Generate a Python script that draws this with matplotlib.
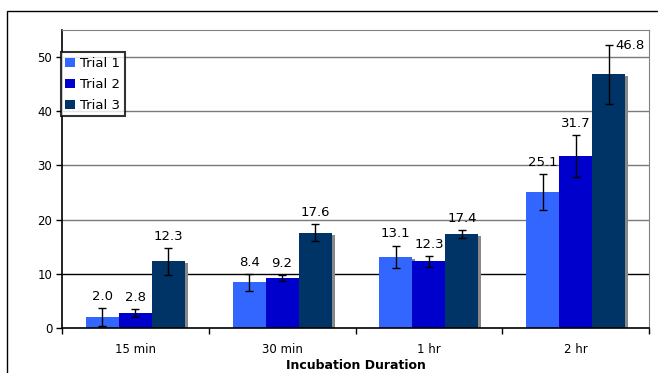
import matplotlib
matplotlib.use("Agg")
import matplotlib.pyplot as plt
import numpy as np
from matplotlib.patches import Rectangle
from matplotlib.transforms import ScaledTranslation

categories = ["15 min", "30 min", "1 hr", "2 hr"]
series_names = ["Trial 1", "Trial 2", "Trial 3"]
trial1 = [2.0, 8.4, 13.1, 25.1]
trial2 = [2.8, 9.2, 12.3, 31.7]
trial3 = [12.3, 17.6, 17.4, 46.8]
err1 = [1.7, 1.6, 2.1, 3.3]
err2 = [0.7, 0.5, 1.0, 3.9]
err3 = [2.5, 1.6, 0.7, 5.4]
colors = ["#3366FF", "#0000CC", "#003366"]
yticks = [0, 10, 20, 30, 40, 50]

plt.rcParams['font.family'] = ['DejaVu Sans']
W, H = 658, 373
fig = plt.figure(figsize=(W / 100, H / 100), dpi=100)
fig.patch.set_facecolor("white")

# outer chart-area border (extends off canvas right/bottom)
fig.patches.append(Rectangle((7 / W, -0.1), 2.0, (H - 11) / H + 0.1,
                             transform=fig.transFigure, fill=False,
                             edgecolor="#000000", linewidth=1.0))

left, right, top, bottom = 62, 649, 30, 328
ax = fig.add_axes([left / W, 1 - bottom / H, (right - left) / W, (bottom - top) / H])
ax.set_xlim(0, 4)
ax.set_ylim(0, 55)

bw = 0.225
series = [trial1, trial2, trial3]
errs = [err1, err2, err3]
x = np.arange(len(categories)) + 0.5
offsets = [-bw, 0, bw]

# gridlines
for t in yticks[1:]:
    ax.axhline(t, color="#000000" if t == 10 else "#7a7a7a", lw=1.0, zorder=0.5)

shadow_tr = ax.transData + ScaledTranslation(3 / 100, -2 / 100, fig.dpi_scale_trans)

for i, vals in enumerate(series):
    xs = x + offsets[i]
    ax.bar(xs, vals, width=bw, color="#888888", zorder=1, transform=shadow_tr)
for i, (vals, er) in enumerate(zip(series, errs)):
    xs = x + offsets[i]
    ax.bar(xs, vals, width=bw, color=colors[i], zorder=2, label=series_names[i])
    ax.errorbar(xs, vals, yerr=er, fmt="none", ecolor="#000000", elinewidth=1.0,
                capsize=3, capthick=1.0, zorder=3)
    for xi, v, e in zip(xs, vals, er):
        if v + e > 50:
            ax.annotate(f"{v:.1f}", (xi, v + e), xytext=(5, 0),
                        textcoords="offset points", ha="left", va="center",
                        fontsize=9.5, color="#000000", zorder=4)
        else:
            ax.annotate(f"{v:.1f}", (xi, v + e), xytext=(0, 8.5),
                        textcoords="offset points", ha="center", va="center",
                        fontsize=9.5, color="#000000", zorder=4)

ax.set_yticks(yticks)
ax.set_yticklabels([str(t) for t in yticks], fontsize=8.5)
ax.set_xticks([0, 1, 2, 3, 4])
ax.set_xticklabels([])
ax.set_xticks(x, minor=True)
ax.set_xticklabels(categories, minor=True, fontsize=8.5)
ax.tick_params(axis="x", which="minor", length=0, pad=11)
ax.tick_params(axis="x", which="major", length=4, direction="out", width=1)
ax.tick_params(axis="y", length=4, direction="out", width=1, pad=3)

for s in ["top", "right"]:
    ax.spines[s].set_color("#808080")
for s in ["left", "bottom"]:
    ax.spines[s].set_color("#000000")
    ax.spines[s].set_linewidth(1.2)

ax.set_xlabel("Incubation Duration", fontsize=9, fontweight="bold", labelpad=2)

leg = ax.legend(loc="upper left", bbox_to_anchor=(-0.002, 0.925), fontsize=9.5,
                frameon=True, fancybox=False, edgecolor="#000000",
                handlelength=0.7, handleheight=0.7, handletextpad=0.4,
                borderpad=0.35, labelspacing=0.6, borderaxespad=0)
leg.get_frame().set_linewidth(1.5)
leg.set_zorder(5)

fig.savefig("out.png", dpi=100, facecolor="white")
